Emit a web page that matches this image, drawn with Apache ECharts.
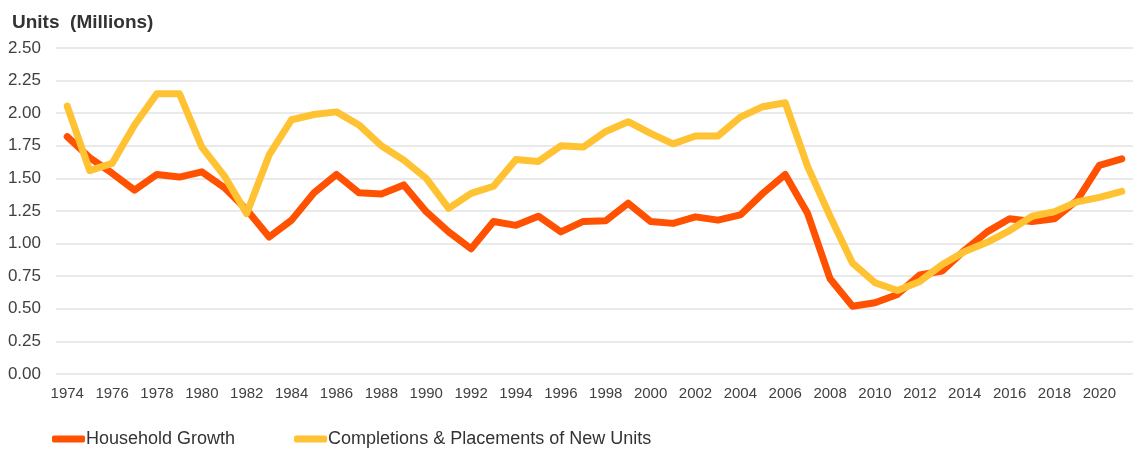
<!DOCTYPE html>
<html>
<head>
<meta charset="utf-8">
<script src="https://cdn.jsdelivr.net/npm/echarts@6/dist/echarts.min.js"></script>
<style>
  html, body { margin: 0; padding: 0; background: #fff; }
  #chart { width: 1133px; height: 449px; }
</style>
</head>
<body>
<div id="chart"></div>
<script>
// years on the x axis
const years = [];
for (let y = 1974; y <= 2021; y++) years.push(String(y));

// household growth, millions
const householdGrowth = [
  1.82, 1.66, 1.54, 1.41, 1.53, 1.51, 1.55, 1.43, 1.26, 1.05,
  1.18, 1.39, 1.53, 1.39, 1.38, 1.45, 1.245, 1.09, 0.96, 1.17,
  1.14, 1.21, 1.09, 1.17, 1.175, 1.31, 1.17, 1.155, 1.205, 1.18,
  1.22, 1.385, 1.53, 1.23, 0.73, 0.52, 0.547, 0.61, 0.76, 0.79,
  0.95, 1.09, 1.19, 1.17, 1.19, 1.33, 1.60, 1.65
];

// completions & placements of new units, millions
const completions = [
  2.055, 1.56, 1.615, 1.91, 2.15, 2.15, 1.74, 1.52, 1.23, 1.68,
  1.95, 1.99, 2.01, 1.91, 1.75, 1.64, 1.50, 1.27, 1.385, 1.44,
  1.645, 1.63, 1.75, 1.74, 1.86, 1.935, 1.845, 1.765, 1.825, 1.825,
  1.97, 2.05, 2.08, 1.59, 1.21, 0.85, 0.70, 0.64, 0.71, 0.84,
  0.94, 1.01, 1.10, 1.21, 1.245, 1.32, 1.355, 1.40
];

const FONT = "'Liberation Sans', Arial, sans-serif";

const chart = echarts.init(document.getElementById("chart"));
chart.setOption({
  animation: false,
  title: {
    text: "Units  (Millions)",
    left: 7,
    top: 8,
    textStyle: { fontFamily: FONT, fontSize: 19, fontWeight: "bold", color: "#333" }
  },
  legend: {
    left: 47,
    top: 425,
    itemWidth: 33,
    itemHeight: 7,
    itemGap: 59,
    icon: "roundRect",
    textStyle: { fontFamily: FONT, fontSize: 18, color: "#333", padding: [0, 0, 0, -4] },
    data: ["Household Growth", "Completions & Placements of New Units"]
  },
  grid: { left: 56, top: 48, width: 1080, bottom: 75 },
  xAxis: {
    type: "category",
    data: years,
    boundaryGap: true,
    axisLine: { show: false },
    axisTick: { show: false },
    axisLabel: {
      interval: 1,
      margin: 12,
      fontFamily: FONT,
      fontSize: 15,
      color: "#404040"
    }
  },
  yAxis: {
    type: "value",
    min: 0,
    max: 2.5,
    interval: 0.25,
    axisLine: { show: false },
    axisTick: { show: false },
    axisLabel: {
      margin: 15,
      fontFamily: FONT,
      fontSize: 17,
      color: "#404040",
      formatter: (v) => v.toFixed(2)
    },
    splitLine: { lineStyle: { color: "#e3e3e3", width: 1.5 } }
  },
  series: [
    {
      name: "Household Growth",
      type: "line",
      data: householdGrowth,
      symbol: "none",
      color: "#FF5100",
      lineStyle: { width: 7, cap: "round", join: "round" }
    },
    {
      name: "Completions & Placements of New Units",
      type: "line",
      data: completions,
      symbol: "none",
      color: "#FFC233",
      lineStyle: { width: 7, cap: "round", join: "round" }
    }
  ]
});
</script>
</body>
</html>
